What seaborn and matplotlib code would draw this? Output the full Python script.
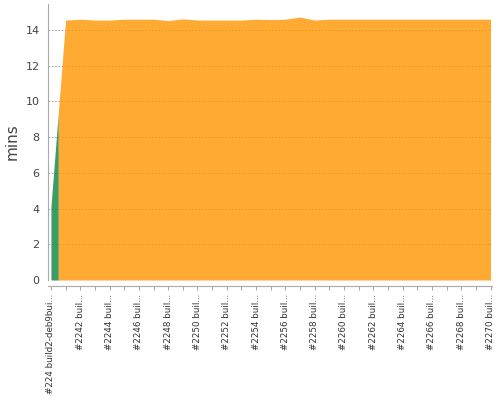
import numpy as np
import pandas as pd
import seaborn as sns
import matplotlib
matplotlib.use("Agg")
import matplotlib.pyplot as plt

# Build labels (as shown on the x axis) and durations in minutes
builds = ["#224 build2-deb9bui..."] + ["#%d buil..." % n for n in range(2241, 2271)]
success = [4.1] + [0.0] * 30
unstable = [0.0,
            14.55, 14.6, 14.55, 14.55, 14.6, 14.6, 14.6, 14.52, 14.62, 14.55,
            14.55, 14.55, 14.55, 14.6, 14.58, 14.6, 14.72, 14.55, 14.6, 14.6,
            14.6, 14.6, 14.6, 14.6, 14.6, 14.6, 14.6, 14.6, 14.6, 14.6]

df = pd.DataFrame({"build": builds, "success": success, "unstable": unstable})
df["total"] = df["success"] + df["unstable"]
x = np.arange(len(df))

sns.set_style("white")
fig = plt.figure(figsize=(5, 4), dpi=100)
ax = fig.add_axes([0.096, 0.30, 0.888, 0.69])

# grid first, areas are a bit transparent like the Jenkins chart
ax.set_axisbelow(True)
ax.yaxis.grid(True, linestyle=(0, (2, 2)), color="#999999", linewidth=0.6)

orange = "#fe9500"
green = "#0b843d"

# green owns the first half-category, orange the rest (split at midpoint)
mid = 0.5
xs_g = np.array([0, mid])
xs_o = np.concatenate([[mid], x[1:]])
ax.fill_between(xs_g, 0, np.interp(xs_g, x, df["total"]), color=green,
                alpha=0.8, linewidth=0)
ax.fill_between(xs_o, 0, np.interp(xs_o, x, df["total"]), color=orange,
                alpha=0.8, linewidth=0)

ax.set_xlim(-0.2, 30.1)
ax.set_ylim(0, 15.45)
ax.set_yticks(range(0, 16, 2))
ax.set_xticks(x)
ax.set_xticklabels([b if i % 2 == 0 else "" for i, b in enumerate(builds)])
ax.tick_params(axis="y", labelsize=8, colors="#444444", length=0, pad=6)
ax.tick_params(axis="x", length=3, color="#aaaaaa", pad=3, bottom=True,
               labelrotation=90, labelsize=6.3, labelcolor="#333333")
ax.set_ylabel("mins", fontsize=11, color="#444444", labelpad=4)

for s in ["top", "right"]:
    ax.spines[s].set_visible(False)
ax.spines["left"].set_color("#aaaaaa")
ax.spines["bottom"].set_color("#aaaaaa")
ax.spines["bottom"].set_position(("outward", 4))

fig.savefig("out.png", dpi=100)
